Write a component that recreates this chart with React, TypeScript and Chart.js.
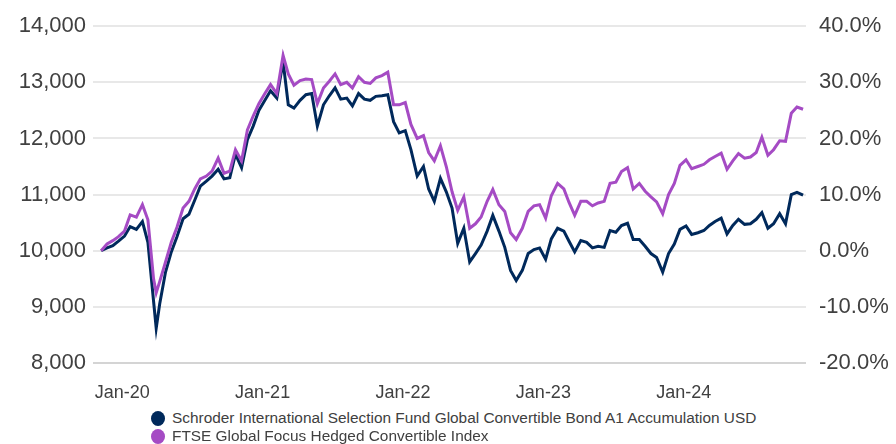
import React, { useEffect, useRef } from 'react';
import { Chart, registerables } from 'chart.js';

Chart.register(...registerables);

const DATES = [
  '2019-11-07', '2019-11-22', '2019-12-07', '2019-12-22',
  '2020-01-07', '2020-01-22', '2020-02-07', '2020-02-22', '2020-03-07', '2020-03-22', '2020-03-29',
  '2020-04-07', '2020-04-22', '2020-05-07', '2020-05-22', '2020-06-07', '2020-06-22',
  '2020-07-07', '2020-07-22', '2020-08-07', '2020-08-22', '2020-09-07', '2020-09-22',
  '2020-10-07', '2020-10-22', '2020-11-07', '2020-11-22', '2020-12-07', '2020-12-22',
  '2021-01-07', '2021-01-22', '2021-02-07', '2021-02-22', '2021-03-07', '2021-03-22',
  '2021-04-07', '2021-04-22', '2021-05-07', '2021-05-22', '2021-06-07', '2021-06-22',
  '2021-07-07', '2021-07-22', '2021-08-07', '2021-08-22', '2021-09-07', '2021-09-22',
  '2021-10-07', '2021-10-22', '2021-11-07', '2021-11-22', '2021-12-07', '2021-12-22',
  '2022-01-07', '2022-01-22', '2022-02-07', '2022-02-22', '2022-03-07', '2022-03-22',
  '2022-04-07', '2022-04-22', '2022-05-07', '2022-05-22', '2022-06-07', '2022-06-22',
  '2022-07-07', '2022-07-22', '2022-08-07', '2022-08-22', '2022-09-07', '2022-09-22',
  '2022-10-07', '2022-10-22', '2022-11-07', '2022-11-22', '2022-12-07', '2022-12-22',
  '2023-01-07', '2023-01-22', '2023-02-07', '2023-02-22', '2023-03-07', '2023-03-22',
  '2023-04-07', '2023-04-22', '2023-05-07', '2023-05-22', '2023-06-07', '2023-06-22',
  '2023-07-07', '2023-07-22', '2023-08-07', '2023-08-22', '2023-09-07', '2023-09-22',
  '2023-10-07', '2023-10-22', '2023-11-07', '2023-11-22', '2023-12-07', '2023-12-22',
  '2024-01-07', '2024-01-22', '2024-02-07', '2024-02-22', '2024-03-07', '2024-03-22',
  '2024-04-07', '2024-04-22', '2024-05-07', '2024-05-22', '2024-06-07', '2024-06-22',
  '2024-07-07', '2024-07-22', '2024-08-07', '2024-08-22', '2024-09-07', '2024-09-22',
  '2024-10-07', '2024-10-22', '2024-11-07',
];

const FUND = [
  10000, 10050, 10090, 10170,
  10260, 10430, 10380, 10520, 10150, 9100, 8620,
  9050, 9620, 9980, 10250, 10570, 10650,
  10900, 11150, 11240, 11330, 11450, 11280,
  11300, 11720, 11480, 11980, 12220, 12500,
  12680, 12850, 12720, 13370, 12600, 12540,
  12680, 12780, 12800, 12220, 12600, 12760,
  12900, 12700, 12720, 12580, 12800, 12700,
  12680, 12750, 12760, 12780, 12300, 12100,
  12140, 11800, 11330, 11500, 11100, 10880,
  11290, 11050, 10760, 10130, 10400, 9800,
  9950, 10100, 10350, 10630, 10350, 10060,
  9650, 9470, 9650, 9950, 10020, 10050,
  9850, 10210, 10400, 10350, 10170, 9980,
  10180, 10150, 10050, 10080, 10060, 10360,
  10330, 10450, 10490, 10200, 10200, 10080,
  9950, 9880, 9620, 9950, 10120, 10380,
  10440, 10290, 10320, 10360, 10450, 10520,
  10580, 10300, 10450, 10560, 10470, 10480,
  10560, 10680, 10400, 10480, 10660, 10480,
  11000, 11040, 10990,
];

const INDEX = [
  10000, 10120, 10180, 10250,
  10350, 10640, 10600, 10820, 10550, 9500, 9250,
  9450, 9800, 10150, 10420, 10760, 10880,
  11100, 11280, 11330, 11420, 11650, 11380,
  11420, 11800, 11600, 12150, 12400, 12620,
  12800, 12960, 12800, 13480, 13150, 12950,
  13030, 13060, 13050, 12620, 12900, 13020,
  13150, 12960, 13000, 12900, 13100, 13000,
  12980, 13080, 13120, 13180, 12600, 12600,
  12640, 12250, 12000, 12050, 11750, 11600,
  11870, 11500, 11050, 10720, 10960, 10400,
  10480, 10600, 10880, 11090, 10820, 10700,
  10320, 10200, 10400, 10700, 10800, 10820,
  10580, 10980, 11200, 11100, 10860, 10630,
  10880, 10880, 10800, 10850, 10880, 11200,
  11220, 11410, 11480, 11100, 11200, 11060,
  10960, 10870, 10660, 11000, 11200, 11520,
  11620, 11460, 11500, 11540, 11620, 11680,
  11740, 11450, 11600, 11730, 11650, 11670,
  11750, 12020, 11700, 11800, 11960, 11950,
  12450, 12560, 12520,
];

const X_TICK_DATES = ['2020-01-01', '2021-01-01', '2022-01-01', '2023-01-01', '2024-01-01'];
const X_TICK_LABELS = ['Jan-20', 'Jan-21', 'Jan-22', 'Jan-23', 'Jan-24'];
const SERIES_NAMES = [
  'Schroder International Selection Fund Global Convertible Bond A1 Accumulation USD',
  'FTSE Global Focus Hedged Convertible Index',
];
const COLORS = ['#00295b', '#a54bc4'];

const FONT_FAMILY = "'Liberation Sans', Arial, sans-serif";
const TEXT_COLOR = '#404040';

function monthIndex(s: string): number {
  const [y, m, d] = s.split('-').map(Number);
  const dim = new Date(y, m, 0).getDate();
  return (y - 2020) * 12 + (m - 1) + (d - 1) / dim;
}

export default function App() {
  const canvasRef = useRef<HTMLCanvasElement | null>(null);

  useEffect(() => {
    document.body.style.margin = '0';
    const canvas = canvasRef.current;
    if (!canvas) return;
    const xs = DATES.map(monthIndex);
    const tickVals = X_TICK_DATES.map(monthIndex);
    const chart = new Chart(canvas, {
      type: 'line',
      data: {
        datasets: [
          {
            label: SERIES_NAMES[1],
            data: INDEX.map((v, i) => ({ x: xs[i], y: v })),
            borderColor: COLORS[1],
            backgroundColor: COLORS[1],
            borderWidth: 3,
            pointRadius: 0,
            tension: 0,
            order: 0,
            yAxisID: 'y',
          },
          {
            label: SERIES_NAMES[0],
            data: FUND.map((v, i) => ({ x: xs[i], y: v })),
            borderColor: COLORS[0],
            backgroundColor: COLORS[0],
            borderWidth: 3,
            pointRadius: 0,
            tension: 0,
            order: 1,
            yAxisID: 'y',
          },
        ],
      },
      options: {
        animation: false,
        responsive: true,
        maintainAspectRatio: false,
        layout: { padding: { top: 20, bottom: 0, left: 0, right: 0 } },
        plugins: { legend: { display: false }, tooltip: { enabled: false } },
        scales: {
          x: {
            type: 'linear',
            min: -2.5,
            max: 58.45,
            grid: { display: false },
            border: { display: false },
            afterBuildTicks: (s: any) => {
              s.ticks = tickVals.map((v) => ({ value: v }));
            },
            afterFit: (s: any) => {
              s.height = 37;
            },
            ticks: {
              autoSkip: false,
              maxRotation: 0,
              padding: 11,
              color: TEXT_COLOR,
              font: { family: FONT_FAMILY, size: 18 },
              callback: (v: any) => {
                const idx = tickVals.findIndex((t) => Math.abs(t - Number(v)) < 1e-6);
                return idx >= 0 ? X_TICK_LABELS[idx] : '';
              },
            },
          },
          y: {
            position: 'left',
            min: 8000,
            max: 14000,
            border: { display: false },
            grid: {
              drawTicks: false,
              lineWidth: 2,
              color: (ctx: any) => (ctx.tick && ctx.tick.value === 8000 ? '#d4d4d4' : '#e8e8e8'),
            },
            afterFit: (s: any) => {
              s.width = 93;
            },
            ticks: {
              stepSize: 1000,
              padding: 7,
              color: TEXT_COLOR,
              font: { family: FONT_FAMILY, size: 22 },
              callback: (v: any) => Number(v).toLocaleString('en-US'),
            },
          },
          y2: {
            position: 'right',
            min: 8000,
            max: 14000,
            border: { display: false },
            grid: { display: false, drawTicks: false },
            afterFit: (s: any) => {
              s.width = 90;
            },
            ticks: {
              stepSize: 1000,
              padding: 13,
              color: TEXT_COLOR,
              font: { family: FONT_FAMILY, size: 22 },
              callback: (v: any) => ((Number(v) - 10000) / 100).toFixed(1) + '%',
            },
          },
        },
      },
    } as any);
    return () => chart.destroy();
  }, []);

  return (
    <div style={{ position: 'fixed', left: 0, top: 0, width: 896, height: 444, background: '#fff' }}>
      <div style={{ position: 'absolute', left: 0, top: 0, width: 896, height: 400 }}>
        <canvas ref={canvasRef} />
      </div>
      {SERIES_NAMES.map((name, i) => (
        <div
          key={name}
          style={{
            position: 'absolute',
            left: 151,
            top: 409 + i * 18,
            height: 18,
            display: 'flex',
            alignItems: 'center',
            fontFamily: FONT_FAMILY,
            fontSize: 15.4,
            color: TEXT_COLOR,
            whiteSpace: 'nowrap',
          }}
        >
          <span
            style={{
              display: 'inline-block',
              width: 14,
              height: 15,
              borderRadius: '50%',
              background: COLORS[i],
              marginRight: 7,
              flex: '0 0 auto',
            }}
          />
          {name}
        </div>
      ))}
    </div>
  );
}
